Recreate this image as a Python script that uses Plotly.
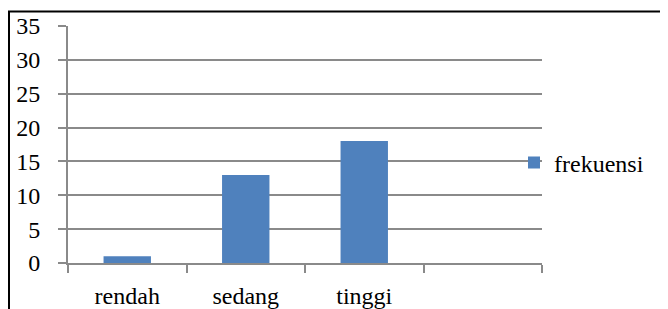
import plotly.graph_objects as go

categories = ["rendah", "sedang", "tinggi", " "]
series_name = "frekuensi"
values = [1, 13, 18]
y_ticks = [0, 5, 10, 15, 20, 25, 30, 35]

FONT = "Times New Roman, Liberation Serif, DejaVu Serif, serif"
GRID = "#8a8a8a"

fig = go.Figure()
fig.add_trace(go.Bar(
    x=categories[:len(values)], y=values, name=series_name,
    marker=dict(color="#4F81BD", line=dict(width=0)),
    showlegend=True,
))

# page body has an 8px margin; work in reference pixels shifted by 8
OFF = 8
W, H = 668 - OFF, 309 - OFF
L, T = 68 - OFF, 26 - OFF
R = W - (542 - OFF)
B = H - (263 - OFF)
pw, ph = W - L - R, H - T - B

def px_x(p):
    return (p - OFF - L) / pw

def px_y(p):
    return (H - B - (p - OFF)) / ph

fig.update_layout(
    width=W, height=H,
    margin=dict(l=L, r=R, t=T, b=B, pad=0, autoexpand=False),
    paper_bgcolor="white", plot_bgcolor="white",
    font=dict(family=FONT, size=23, color="black"),
    bargap=0.6,
    showlegend=True,
    legend=dict(x=px_x(514), y=px_y(163), xanchor="left", yanchor="middle",
                bgcolor="rgba(0,0,0,0)", font=dict(family=FONT, size=24),
                itemwidth=30, tracegroupgap=0),
    xaxis=dict(
        type="category", categoryorder="array", categoryarray=categories,
        range=[-0.5, 3.5], tickson="boundaries", automargin=False,
        showgrid=False, showline=True, linecolor=GRID, linewidth=2,
        ticks="outside", ticklen=8, tickwidth=2, tickcolor=GRID,
        ticklabelstandoff=10,
        tickfont=dict(family=FONT, size=24, color="black"),
        fixedrange=True,
    ),
    yaxis=dict(
        range=[0, 35], tickvals=y_ticks, automargin=False,
        showgrid=True, gridcolor=GRID, gridwidth=2,
        showline=True, linecolor=GRID, linewidth=2,
        ticks="outside", ticklen=8, tickwidth=2, tickcolor=GRID,
        ticklabelstandoff=13,
        tickfont=dict(family=FONT, size=24, color="black"),
        zeroline=False, fixedrange=True,
    ),
    shapes=[
        dict(type="line", xref="paper", yref="paper",
             x0=px_x(8), x1=px_x(668), y0=px_y(11.5), y1=px_y(11.5),
             line=dict(color="black", width=2)),
        dict(type="line", xref="paper", yref="paper",
             x0=px_x(9), x1=px_x(9), y0=px_y(11.5), y1=px_y(309),
             line=dict(color="black", width=2)),
    ],
)

fig.write_html("out.html")
